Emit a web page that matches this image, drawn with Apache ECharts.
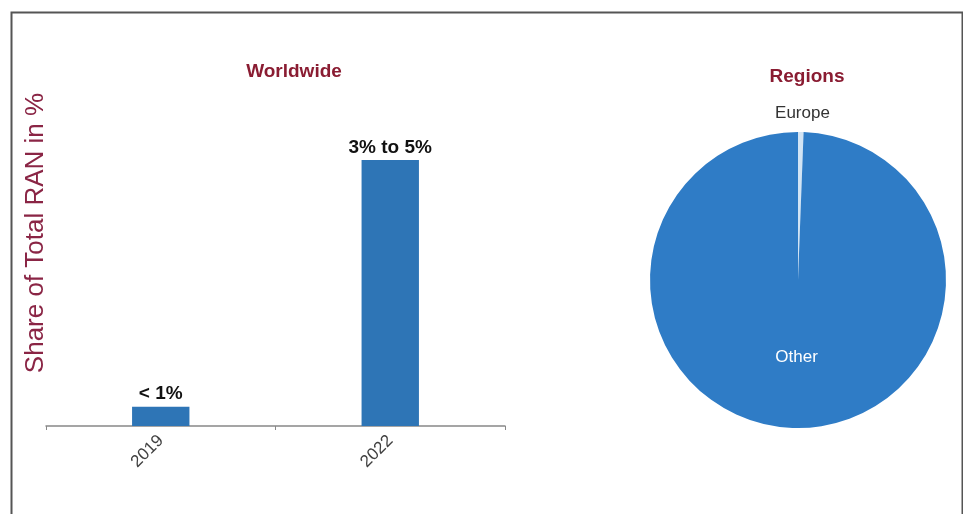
<!DOCTYPE html>
<html><head><meta charset="utf-8">
<script src="https://cdn.jsdelivr.net/npm/echarts@6/dist/echarts.min.js"></script>
<style>html,body{margin:0;padding:0;background:#fff;}#c{width:963px;height:514px;}</style>
</head><body><div id="c"></div>
<script>
const years = ['2019', '2022'];
const shareValues = [0.29, 4.0];
const shareLabels = ['< 1%', '3% to 5%'];
const regionNames = ['Europe', 'Other'];
const regionValues = [0.6, 99.4];
const regionColors = ['#D2E4F4', '#2F7CC6'];
const yAxisTitle = 'Share of Total RAN in %';

const FF = 'Liberation Sans, Arial, sans-serif';
const chart = echarts.init(document.getElementById('c'), null, {renderer: 'canvas'});
const titleColor = '#8A1C32';
chart.setOption({
  animation: false,
  backgroundColor: '#fff',
  graphic: [{
    type: 'rect', left: 9, top: 10,
    shape: {width: 951, height: 520},
    style: {fill: 'none', stroke: '#555', lineWidth: 2}, silent: true
  }, {
    type: 'text', x: 36, y: 233, rotation: Math.PI / 2,
    style: {text: yAxisTitle, fill: '#8A2545', fontSize: 26, fontFamily: FF, align: 'center', verticalAlign: 'middle'},
    silent: true
  }],
  title: [
    {text: 'Worldwide', left: 289, top: 57, textAlign: 'center',
     textStyle: {color: titleColor, fontSize: 19, fontWeight: 'bold', fontFamily: FF}},
    {text: 'Regions', left: 802, top: 62, textAlign: 'center',
     textStyle: {color: titleColor, fontSize: 19, fontWeight: 'bold', fontFamily: FF}}
  ],
  grid: {left: 46, right: 458, top: 93.5, bottom: 88, containLabel: false},
  xAxis: {
    type: 'category', data: years,
    axisLine: {lineStyle: {color: '#888', width: 1.5}},
    axisTick: {show: true, length: 4, lineStyle: {color: '#888'}},
    axisLabel: {rotate: 45, color: '#404040', fontSize: 17, margin: 12, fontFamily: FF}
  },
  yAxis: {
    type: 'value', min: 0, max: 5,
    axisLine: {show: false}, axisTick: {show: false}, axisLabel: {show: false}, splitLine: {show: false}
  },
  series: [{
    type: 'bar', data: shareValues.map((v, i) => ({value: v, label: {formatter: shareLabels[i]}})),
    barWidth: '25%',
    itemStyle: {color: '#2E75B6'},
    label: {show: true, position: 'top', distance: 3, color: '#111', fontSize: 19, fontWeight: 'bold', fontFamily: FF}
  }, {
    type: 'pie', center: [798, 280], radius: 148, startAngle: 90, clockwise: true,
    data: regionNames.map((n, i) => ({
      name: n, value: regionValues[i], itemStyle: {color: regionColors[i]},
      label: i === 0 ? {position: 'inside', color: '#333', offset: [3, -90]} : undefined
    })),
    label: {show: true, position: 'inside', color: '#fff', fontSize: 17, fontFamily: FF, formatter: '{b}'},
    labelLine: {show: false},
    itemStyle: {borderWidth: 0},
    emphasis: {disabled: true}
  }]
});
</script></body></html>
